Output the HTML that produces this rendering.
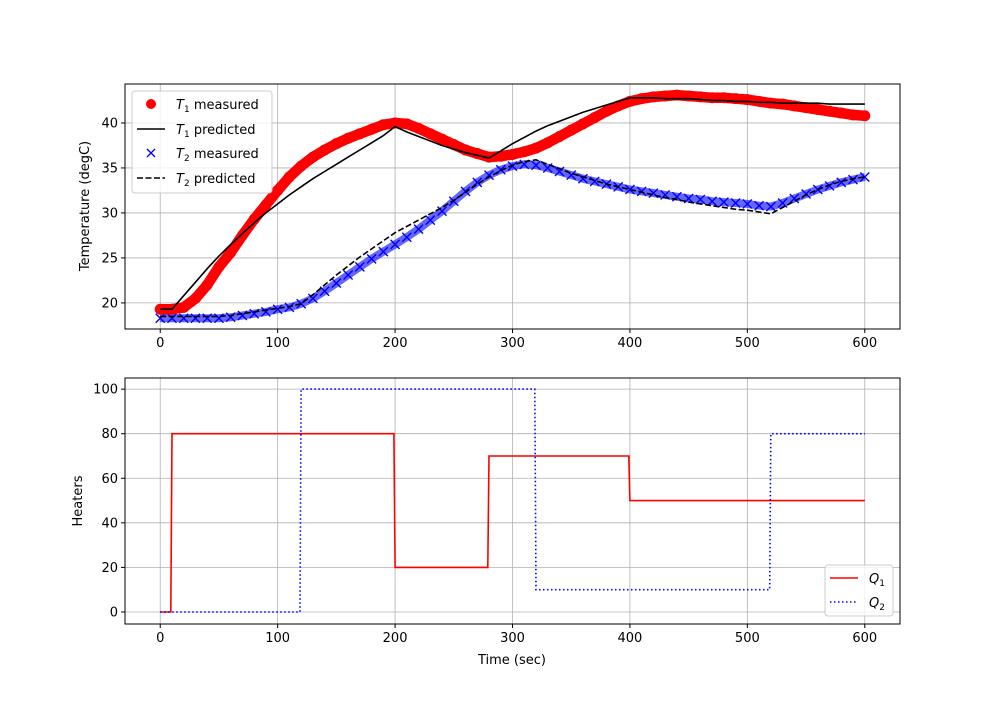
<!DOCTYPE html>
<html><head><meta charset="utf-8"><style>
body{margin:0;background:#fff}
svg text{font-family:"DejaVu Sans","Liberation Sans",sans-serif;font-size:13px;fill:#000}
</style></head><body>
<svg id="fig" width="1000" height="700" xmlns="http://www.w3.org/2000/svg"></svg>
<script>
const t10=[];for(let i=0;i<=60;i++)t10.push(i*10);
const T1meas=[19.3,19.3,19.5,20.5,22,24,25.6,27.5,29.3,30.9,32.5,34,35.2,36.2,37,37.7,38.3,38.8,39.3,39.8,40,39.9,39.4,38.8,38.2,37.6,37,36.6,36.2,36.3,36.5,36.8,37.2,37.8,38.5,39.2,39.9,40.6,41.3,41.9,42.4,42.7,42.9,43,43.1,43,42.9,42.8,42.8,42.7,42.6,42.4,42.2,42.1,41.9,41.7,41.5,41.3,41.1,40.9,40.8];
const T1pred=[19.3,19.3,20.8,22.3,23.8,25.2,26.5,27.7,28.9,30,31,32,32.9,33.8,34.6,35.4,36.2,37,37.8,38.6,39.6,39,38.5,38,37.5,37.1,36.7,36.4,36.1,36.9,37.7,38.4,39.1,39.7,40.2,40.7,41.2,41.6,42,42.4,42.8,42.8,42.8,42.7,42.7,42.7,42.6,42.5,42.5,42.4,42.4,42.3,42.3,42.2,42.2,42.2,42.2,42.1,42.1,42.1,42.1];
const T2meas=[18.3,18.3,18.3,18.3,18.3,18.3,18.4,18.6,18.8,19,19.3,19.5,19.9,20.5,21.3,22.2,23.1,24,24.9,25.7,26.5,27.3,28.2,29.2,30.2,31.3,32.4,33.4,34.2,34.8,35.2,35.4,35.3,35,34.6,34.2,33.8,33.5,33.2,32.9,32.6,32.4,32.2,32,31.8,31.6,31.5,31.3,31.2,31.1,31,30.8,30.7,31.1,31.6,32.1,32.6,33,33.4,33.7,34];
const T2pred=[18.5,18.5,18.5,18.5,18.5,18.5,18.6,18.8,19,19.2,19.4,19.6,19.9,20.9,22,23.1,24.1,25.1,26,26.9,27.8,28.5,29.2,29.9,30.6,31.4,32.3,33.2,34,34.7,35.3,35.7,35.9,35.4,34.9,34.4,34,33.6,33.2,32.9,32.6,32.3,32,31.7,31.5,31.2,31,30.8,30.6,30.4,30.3,30.1,29.9,30.6,31.3,32,32.6,33.1,33.5,33.8,34];
const qT1=[0,9,10,199,200,279,280,399,400,600];
const Q1=[0,0,80,80,20,20,70,70,50,50];
const qT2=[0,119,120,319,320,519,520,600];
const Q2=[0,0,100,100,10,10,80,80];
const xTicks=[0,100,200,300,400,500,600];
const y1Ticks=[20,25,30,35,40];
const y2Ticks=[0,20,40,60,80,100];

const NS='http://www.w3.org/2000/svg',svg=document.getElementById('fig');
function mk(tag,at,parent){const e=document.createElementNS(NS,tag);for(const k in at)e.setAttribute(k,at[k]);(parent||svg).appendChild(e);return e;}
const L=125,R=900;
const xs=v=>L+(v+30)/660*(R-L);
const A1={top:84,bot:329,min:17.1,max:44.33};
const A2={top:378,bot:624,min:-5.4,max:105};
const ys=(A,v)=>A.bot-(v-A.min)/(A.max-A.min)*(A.bot-A.top);
function axes(A,yt,name){
  const g=mk('g',{});
  
  
  xTicks.forEach(t=>{const x=xs(t);mk('line',{x1:x,x2:x,y1:A.top,y2:A.bot,stroke:'#b0b0b0','stroke-width':0.8},g);
    mk('line',{x1:x,x2:x,y1:A.bot,y2:A.bot+4,stroke:'#000'},g);
    const tx=mk('text',{x:x,y:A.bot+18,'text-anchor':'middle'},g);tx.textContent=t;
    });
  yt.forEach(t=>{const y=ys(A,t);mk('line',{x1:L,x2:R,y1:y,y2:y,stroke:'#b0b0b0','stroke-width':0.8},g);
    mk('line',{x1:L-4,x2:L,y1:y,y2:y,stroke:'#000'},g);
    const tx=mk('text',{x:L-7,y:y+4.5,'text-anchor':'end'},g);tx.textContent=t;
    });
}
function frame(A,name){const r=mk('rect',{x:L,y:A.top,width:R-L,height:A.bot-A.top,fill:'none',stroke:'#000','stroke-width':1});
  }
function pts(A,xa,ya){return xa.map((t,i)=>xs(t).toFixed(1)+','+ys(A,ya[i]).toFixed(1)).join(' ');}

axes(A1,y1Ticks,'top');
axes(A2,y2Ticks,'bottom');

let p=mk('polyline',{points:pts(A1,t10,T2meas),fill:'none',stroke:'#0000ff','stroke-width':8,'stroke-opacity':0.6});

t10.forEach((t,i)=>{const x=xs(t),y=ys(A1,T2meas[i]);
  const m=mk('path',{d:`M${x-4.5},${y-4.5}L${x+4.5},${y+4.5}M${x-4.5},${y+4.5}L${x+4.5},${y-4.5}`,stroke:'#0000ff','stroke-width':1.4});
  });
p=mk('polyline',{points:pts(A1,t10,T1meas),fill:'none',stroke:'#ff0000','stroke-width':10.5,'stroke-linecap':'round','stroke-linejoin':'round'});

t10.forEach((t,i)=>{const c=mk('circle',{cx:xs(t),cy:ys(A1,T1meas[i]),r:5.5,fill:'#ff0000'});
  });
p=mk('polyline',{points:pts(A1,t10,T1pred),fill:'none',stroke:'#000','stroke-width':1.6});

p=mk('polyline',{points:pts(A1,t10,T2pred),fill:'none',stroke:'#000','stroke-width':1.6,'stroke-dasharray':'6,2.5'});


p=mk('polyline',{points:pts(A2,qT1,Q1),fill:'none',stroke:'#ff0000','stroke-width':1.6});

p=mk('polyline',{points:pts(A2,qT2,Q2),fill:'none',stroke:'#0000ff','stroke-width':1.6,'stroke-dasharray':'1.5,2.5'});


frame(A1,'top-axes');frame(A2,'bottom-axes');
</script>
<svg style="position:absolute;left:0;top:0" width="1000" height="700" xmlns="http://www.w3.org/2000/svg">
<text x="89" y="206" text-anchor="middle" transform="rotate(-90 89 206)">Temperature (degC)</text>
<text x="82" y="501" text-anchor="middle" transform="rotate(-90 82 501)">Heaters</text>
<text x="512" y="664" text-anchor="middle">Time (sec)</text>
<g>
<rect x="132" y="91" width="140" height="102" rx="3" fill="#fff" fill-opacity="0.8" stroke="#ccc"/>
<circle cx="151" cy="104" r="5" fill="#ff0000"/>
<text x="176" y="109"><tspan font-style="italic">T</tspan><tspan font-size="9" dy="3">1</tspan><tspan dy="-3"> measured</tspan></text>
<line x1="137" x2="165" y1="129" y2="129" stroke="#000" stroke-width="1.6"/>
<text x="176" y="134"><tspan font-style="italic">T</tspan><tspan font-size="9" dy="3">1</tspan><tspan dy="-3"> predicted</tspan></text>
<path d="M147,149L155,157M147,157L155,149" stroke="#0000ff" stroke-width="1.3"/>
<text x="176" y="158"><tspan font-style="italic">T</tspan><tspan font-size="9" dy="3">2</tspan><tspan dy="-3"> measured</tspan></text>
<line x1="137" x2="165" y1="178" y2="178" stroke="#000" stroke-width="1.6" stroke-dasharray="6,2.5"/>
<text x="176" y="183"><tspan font-style="italic">T</tspan><tspan font-size="9" dy="3">2</tspan><tspan dy="-3"> predicted</tspan></text>
</g>
<g>
<rect x="825" y="565" width="68" height="51" rx="3" fill="#fff" fill-opacity="0.8" stroke="#ccc"/>
<line x1="830" x2="858" y1="578" y2="578" stroke="#ff0000" stroke-width="1.6"/>
<text x="869" y="583"><tspan font-style="italic">Q</tspan><tspan font-size="9" dy="3">1</tspan></text>
<line x1="830" x2="858" y1="602" y2="602" stroke="#0000ff" stroke-width="1.6" stroke-dasharray="1.5,2.5"/>
<text x="869" y="607"><tspan font-style="italic">Q</tspan><tspan font-size="9" dy="3">2</tspan></text>
</g>
</svg>
</body></html>
